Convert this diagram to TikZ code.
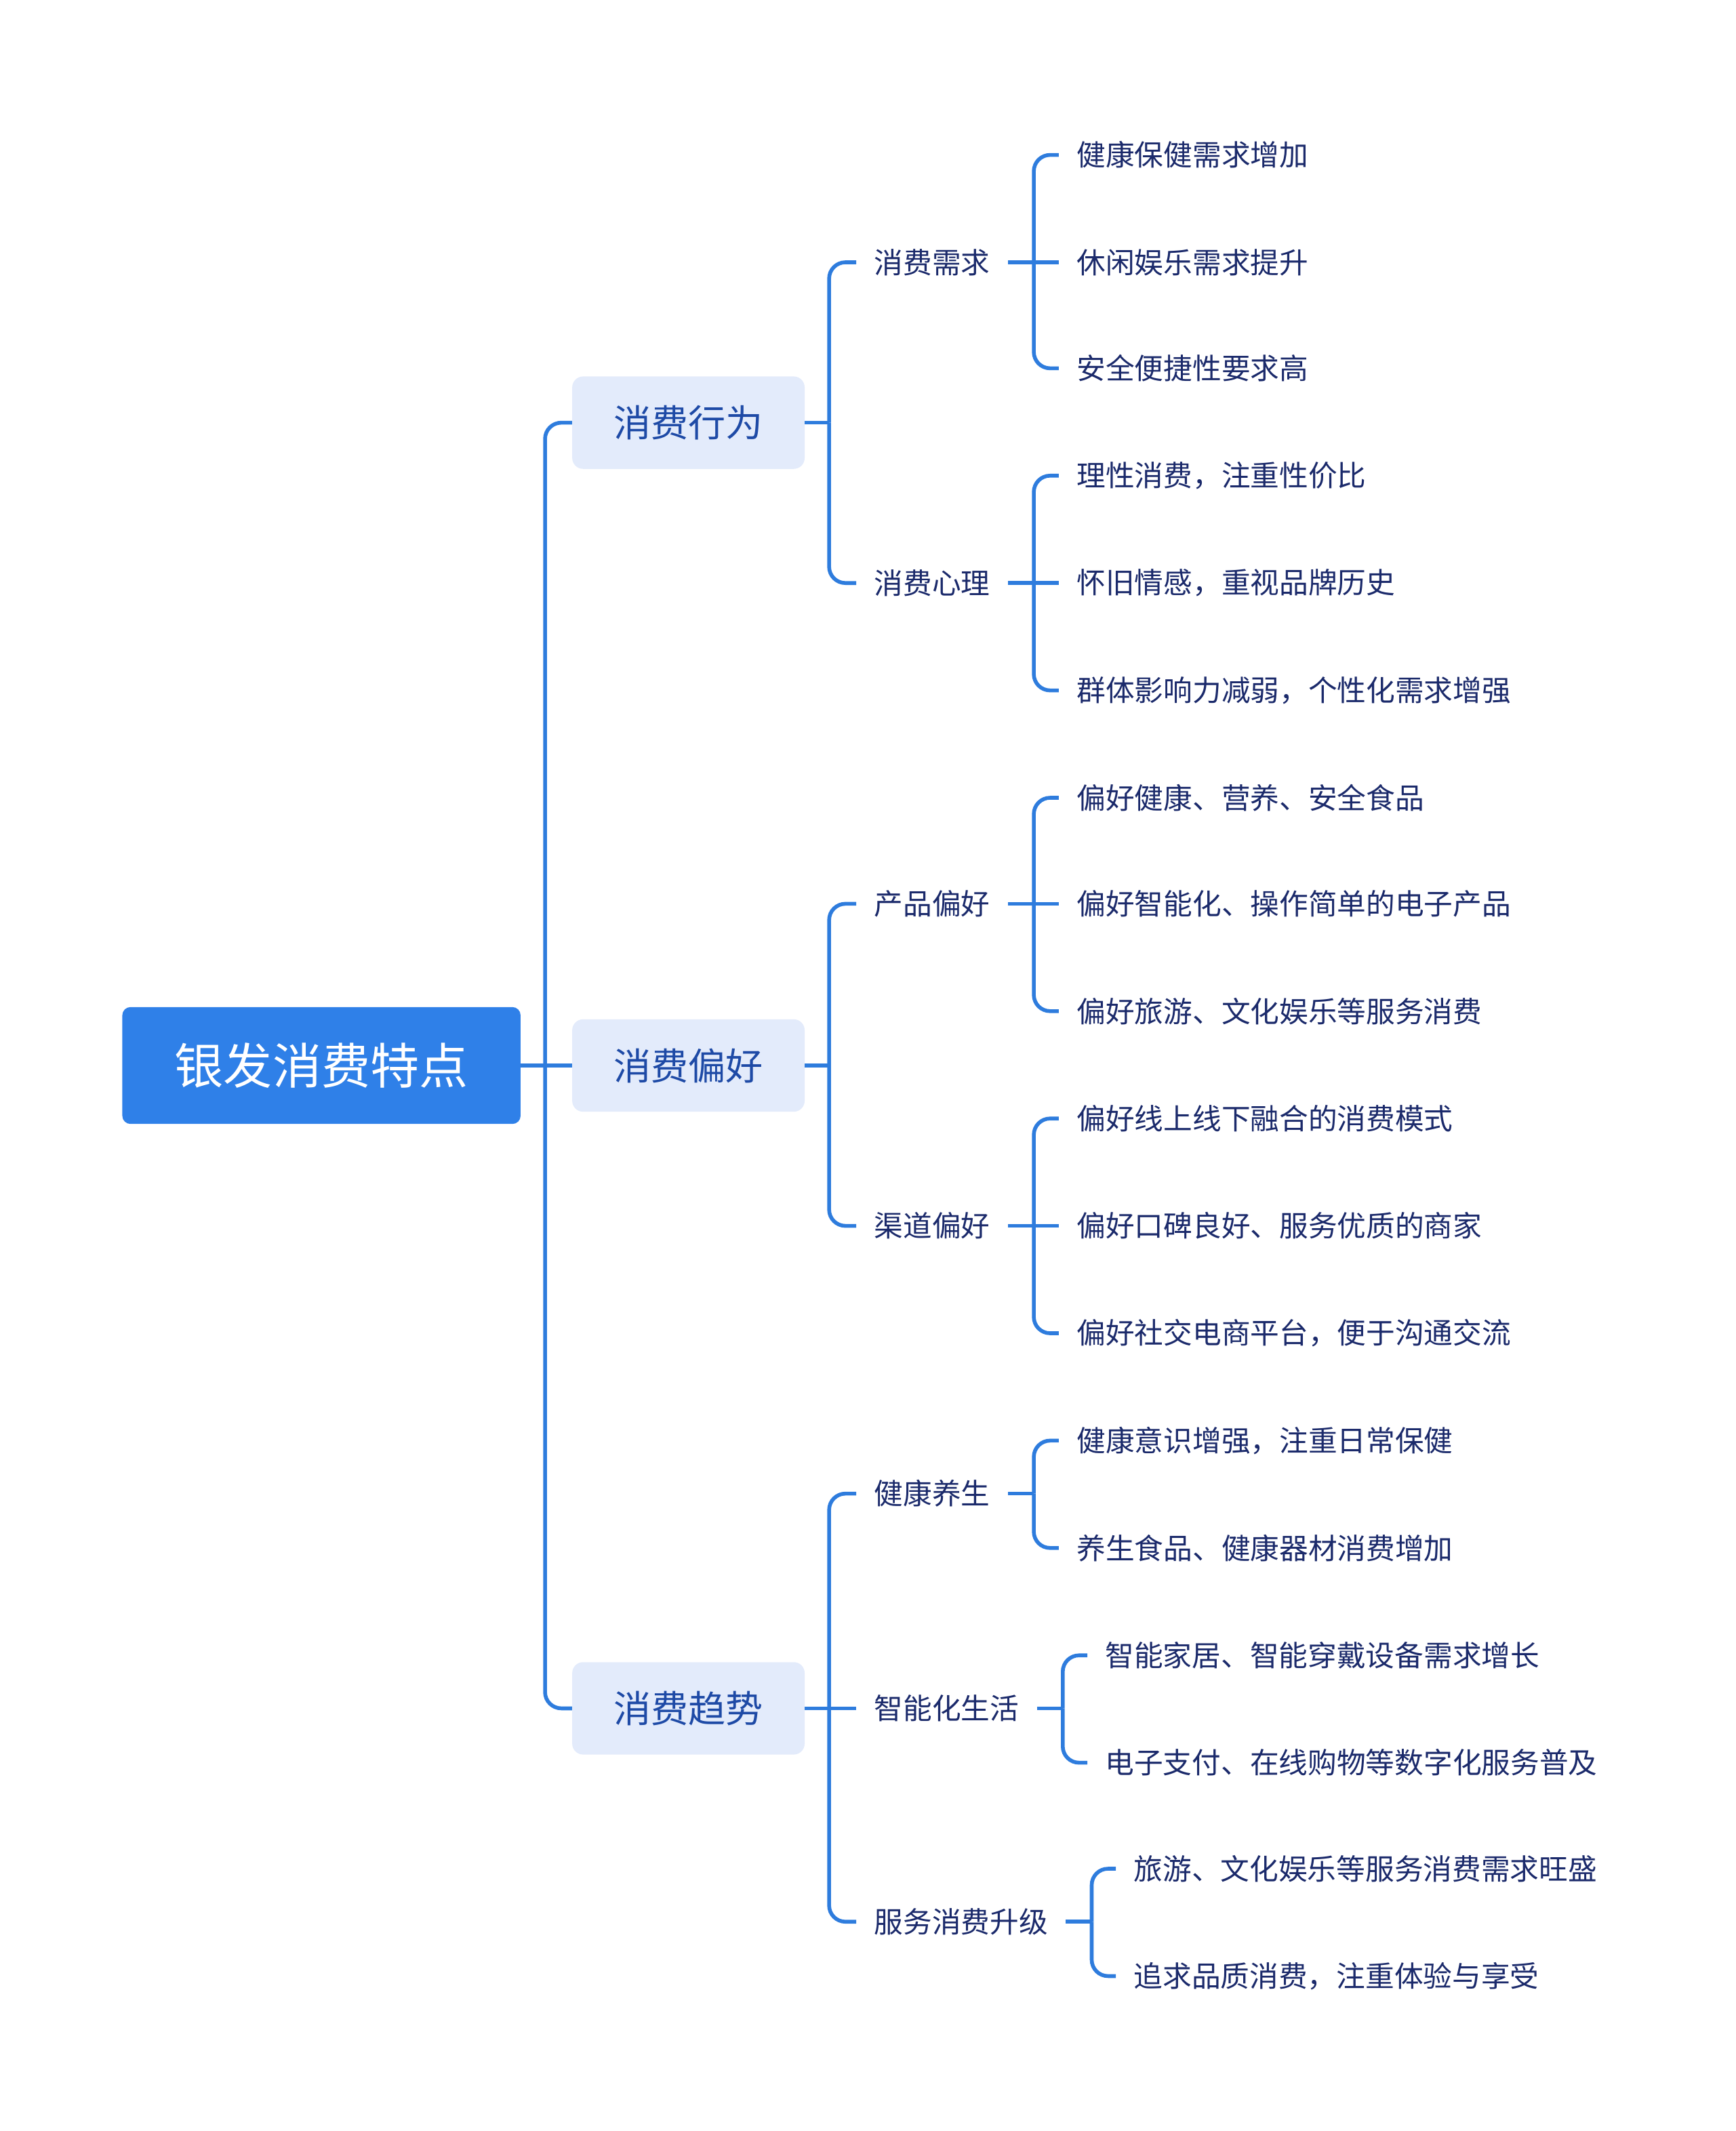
\documentclass[tikz,border=0pt]{standalone}
\usepackage{fontspec}
\setmainfont{Noto Sans CJK SC}
\usepackage{xcolor}
\usetikzlibrary{positioning, calc}

\definecolor{rootblue}{HTML}{2F80E8}
\definecolor{linkblue}{HTML}{2E7CDD}
\definecolor{topicfill}{HTML}{E3EBFB}
\definecolor{topictext}{HTML}{1E4AA6}
\definecolor{leaftext}{HTML}{1B2A6B}

\begin{document}
\begin{tikzpicture}[x=1pt, y=-1pt,
    rootnode/.style={rectangle, rounded corners=6pt, fill=rootblue, text=white,
                     minimum width=293pt, minimum height=86pt, inner sep=0pt,
                     font=\fontsize{36}{40}\selectfont},
    topic/.style={rectangle, rounded corners=8pt, fill=topicfill, text=topictext,
                  minimum width=171pt, minimum height=68pt, inner sep=0pt,
                  font=\fontsize{27.5}{32}\selectfont},
    sub/.style={anchor=west, inner xsep=13pt, inner ysep=0pt, text=leaftext,
                font=\fontsize{21.3}{25}\selectfont},
    leaf/.style={sub},
    link/.style={draw=linkblue, line width=2.8pt, rounded corners=12pt},
]
\useasboundingbox (0,0) rectangle (1277,1568);

% Root and main topics
\node[rootnode] (root) at (236.5,784) {银发消费特点};
\node[topic] (xw) at (506.5,311) {消费行为};
\node[topic] (ph) at (506.5,784) {消费偏好};
\node[topic] (qs) at (506.5,1257) {消费趋势};

% Sub topics
\node[sub] (xq) at (630,193) {消费需求};
\node[sub] (xl) at (630,429) {消费心理};
\node[sub] (cp) at (630,665) {产品偏好};
\node[sub] (qd) at (630,902) {渠道偏好};
\node[sub] (jk) at (630,1099) {健康养生};
\node[sub] (zn) at (630,1257) {智能化生活};
\node[sub] (fw) at (630,1414) {服务消费升级};

% Leaves
\node[leaf] (xq1) at (779,114) {健康保健需求增加};
\node[leaf] (xq2) at (779,193) {休闲娱乐需求提升};
\node[leaf] (xq3) at (779,271) {安全便捷性要求高};
\node[leaf] (xl1) at (779,350) {理性消费，注重性价比};
\node[leaf] (xl2) at (779,429) {怀旧情感，重视品牌历史};
\node[leaf] (xl3) at (779,508) {群体影响力减弱，个性化需求增强};
\node[leaf] (cp1) at (779,587) {偏好健康、营养、安全食品};
\node[leaf] (cp2) at (779,665) {偏好智能化、操作简单的电子产品};
\node[leaf] (cp3) at (779,744) {偏好旅游、文化娱乐等服务消费};
\node[leaf] (qd1) at (779,823) {偏好线上线下融合的消费模式};
\node[leaf] (qd2) at (779,902) {偏好口碑良好、服务优质的商家};
\node[leaf] (qd3) at (779,981) {偏好社交电商平台，便于沟通交流};
\node[leaf] (jk1) at (779,1060) {健康意识增强，注重日常保健};
\node[leaf] (jk2) at (779,1139) {养生食品、健康器材消费增加};
\node[leaf] (zn1) at (800,1218) {智能家居、智能穿戴设备需求增长};
\node[leaf] (zn2) at (800,1297) {电子支付、在线购物等数字化服务普及};
\node[leaf] (fw1) at (821,1375) {旅游、文化娱乐等服务消费需求旺盛};
\node[leaf] (fw2) at (821,1454) {追求品质消费，注重体验与享受};

% Junctions
\coordinate (j0) at (401,784);
\coordinate (jxw) at (610,311);
\coordinate (jph) at (610,784);
\coordinate (jqs) at (610,1257);
\foreach \s in {xq,xl,cp,qd,jk,zn,fw} {
    \coordinate (j\s) at ($(\s.east)+(19,0)$);
}

% Root -> topics
\draw[link] (root.east) -- (ph.west);
\foreach \t in {xw,qs} {
    \draw[link] (j0) |- (\t.west);
}

% Topics -> sub topics
\draw[link] (xw.east) -- (jxw);
\foreach \s in {xq,xl} {
    \draw[link] (jxw) |- (\s.west);
}
\draw[link] (ph.east) -- (jph);
\foreach \s in {cp,qd} {
    \draw[link] (jph) |- (\s.west);
}
\draw[link] (qs.east) -- (zn.west);
\foreach \s in {jk,fw} {
    \draw[link] (jqs) |- (\s.west);
}

% Sub topics -> leaves (three children)
\foreach \s in {xq,xl,cp,qd} {
    \draw[link] (\s.east) -- (\s2.west);
    \draw[link] (j\s) |- (\s1.west);
    \draw[link] (j\s) |- (\s3.west);
}
% Sub topics -> leaves (two children)
\foreach \s in {jk,zn,fw} {
    \draw[link] (\s.east) -- (j\s);
    \draw[link] (j\s) |- (\s1.west);
    \draw[link] (j\s) |- (\s2.west);
}

\end{tikzpicture}
\end{document}
